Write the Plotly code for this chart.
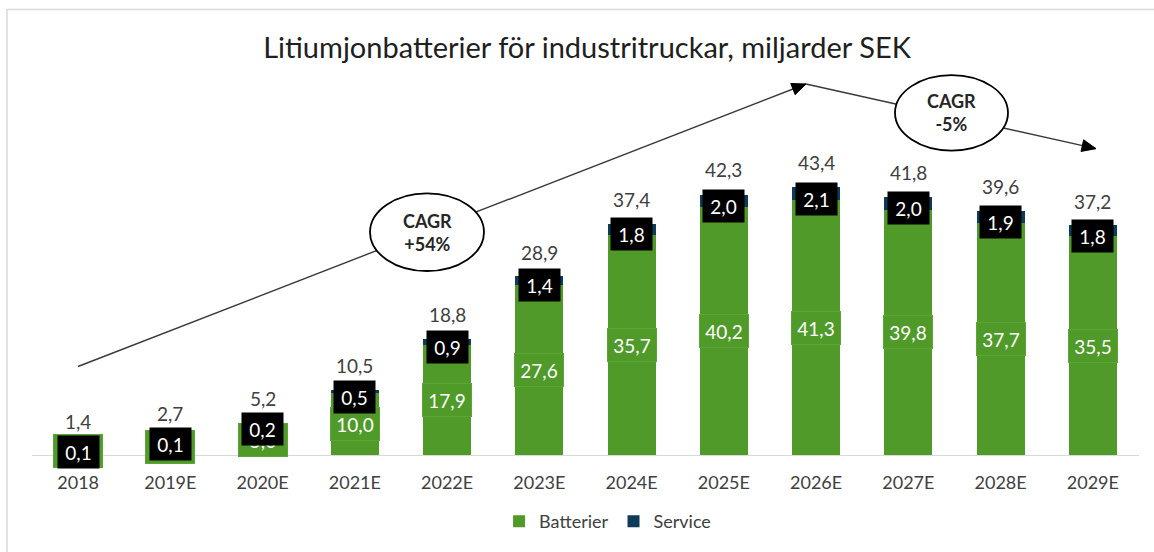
import plotly.graph_objects as go

# ---------------- data ----------------
years = ["2018", "2019E", "2020E", "2021E", "2022E", "2023E",
         "2024E", "2025E", "2026E", "2027E", "2028E", "2029E"]
batterier = [1.3, 2.6, 5.0, 10.0, 17.9, 27.6, 35.7, 40.2, 41.3, 39.8, 37.7, 35.5]
service = [0.1, 0.1, 0.2, 0.5, 0.9, 1.4, 1.8, 2.0, 2.1, 2.0, 1.9, 1.8]
totals = [1.4, 2.7, 5.2, 10.5, 18.8, 28.9, 37.4, 42.3, 43.4, 41.8, 39.6, 37.2]
cagr_lines = [("CAGR", "+54%"), ("CAGR", "-5%")]

GREEN = "#4F9A29"
NAVY = "#0E3B58"
TXT = "#404040"
FONT = "Lato, 'Open Sans', sans-serif"

W, H = 1154, 552
L, R, T, B = 32, 15, 85, 95
PW, PH = W - L - R, H - T - B


def fx(p):
    return (p - L) / PW


def fy(p):
    return (H - B - p) / PH


def fmt(v):
    return f"{v:.1f}".replace(".", ",")


fig = go.Figure()
fig.add_trace(go.Bar(x=years, y=batterier, name="Batterier", marker_color=GREEN,
                     marker_line_width=0))
fig.add_trace(go.Bar(x=years, y=service, name="Service", marker_color=NAVY,
                     marker_line_width=0))

annotations = []
# category positions (index on the category axis)
for i, b in enumerate(batterier):
    annotations.append(dict(x=i, y=b / 2, text=fmt(b), showarrow=False,
                            font=dict(family=FONT, size=19, color="white"),
                            bgcolor=GREEN, bordercolor="#5AA636", borderwidth=1,
                            width=46, height=30, xref="x", yref="y"))
for i, (b, s, t) in enumerate(zip(batterier, service, totals)):
    annotations.append(dict(x=i, y=b + s / 2, text=fmt(s), showarrow=False,
                            font=dict(family=FONT, size=19, color="white"),
                            bgcolor="black", width=39, height=30, yshift=-5,
                            xref="x", yref="y"))
    annotations.append(dict(x=i, y=t, text=fmt(t), showarrow=False,
                            font=dict(family=FONT, size=19, color=TXT),
                            yanchor="bottom", yshift=11, xref="x", yref="y"))

shapes = []
shapes.append(dict(type="rect", xref="paper", yref="paper",
                   x0=fx(7), x1=fx(1170), y0=fy(9), y1=fy(580),
                   line=dict(color="#D9D9D9", width=1.5), fillcolor="rgba(0,0,0,0)",
                   layer="below"))


def arrow(p0, p1):
    shapes.append(dict(type="line", xref="paper", yref="paper",
                       x0=fx(p0[0]), y0=fy(p0[1]), x1=fx(p1[0]), y1=fy(p1[1]),
                       line=dict(color="#3A3A3A", width=1.4)))
    dx, dy = p1[0] - p0[0], p1[1] - p0[1]
    n = (dx * dx + dy * dy) ** 0.5
    ux, uy = dx / n, dy / n
    Lh, Wh = 14, 6
    bx, by = p1[0] - Lh * ux, p1[1] - Lh * uy
    c1 = (bx - Wh * uy, by + Wh * ux)
    c2 = (bx + Wh * uy, by - Wh * ux)
    path = (f"M {fx(p1[0])},{fy(p1[1])} L {fx(c1[0])},{fy(c1[1])} "
            f"L {fx(c2[0])},{fy(c2[1])} Z")
    shapes.append(dict(type="path", xref="paper", yref="paper", path=path,
                       fillcolor="black", line=dict(color="black", width=1)))


arrow((78, 368), (806, 84))
arrow((806, 84), (1096, 149))

ellipses = [((370, 194), (484, 272)), ((895, 75), (1008, 151))]
for (x0, y0), (x1, y1) in ellipses:
    shapes.append(dict(type="circle", xref="paper", yref="paper",
                       x0=fx(x0), x1=fx(x1), y0=fy(y1), y1=fy(y0),
                       fillcolor="white", line=dict(color="black", width=1.8)))

for ((x0, y0), (x1, y1)), (l1, l2) in zip(ellipses, cagr_lines):
    annotations.append(dict(xref="paper", yref="paper", x=fx((x0 + x1) / 2),
                            y=fy((y0 + y1) / 2), xanchor="center", yanchor="middle",
                            align="center",
                            text=f"<b>{l1}</b><br><b>{l2}</b>", showarrow=False,
                            font=dict(family=FONT, size=18, color="#262626")))

fig.update_layout(
    width=W, height=H,
    margin=dict(l=L, r=R, t=T, b=B, pad=0),
    paper_bgcolor="white", plot_bgcolor="white",
    barmode="stack", bargap=0.48,
    title=dict(text="Litiumjonbatterier för industritruckar, miljarder SEK",
               x=587 / W, xanchor="center", xref="container",
               y=1 - 48 / H, yanchor="middle", yref="container",
               font=dict(family=FONT, size=29, color="#202020")),
    xaxis=dict(type="category", range=[-0.5, len(years) - 0.5], showline=True,
               linecolor="#D9D9D9", linewidth=1,
               ticks="outside", ticklen=11, tickcolor="rgba(0,0,0,0)",
               tickfont=dict(family=FONT, size=18, color=TXT), showgrid=False),
    yaxis=dict(range=[0, PH / 6.2], visible=False, showgrid=False, zeroline=False),
    legend=dict(orientation="h", x=600 / W, xanchor="center", xref="paper",
                y=fy(524), yanchor="middle", itemwidth=30,
                font=dict(family=FONT, size=18, color=TXT), traceorder="normal",
                itemclick=False),
    showlegend=True,
    annotations=annotations,
    shapes=shapes,
)

fig.write_html("out.html", config={"displayModeBar": False})
with open("out.html", "r", encoding="utf-8") as f:
    html = f.read()
html = html.replace("<head>", "<head><style>html,body{margin:0;padding:0;}</style>", 1)
with open("out.html", "w", encoding="utf-8") as f:
    f.write(html)
